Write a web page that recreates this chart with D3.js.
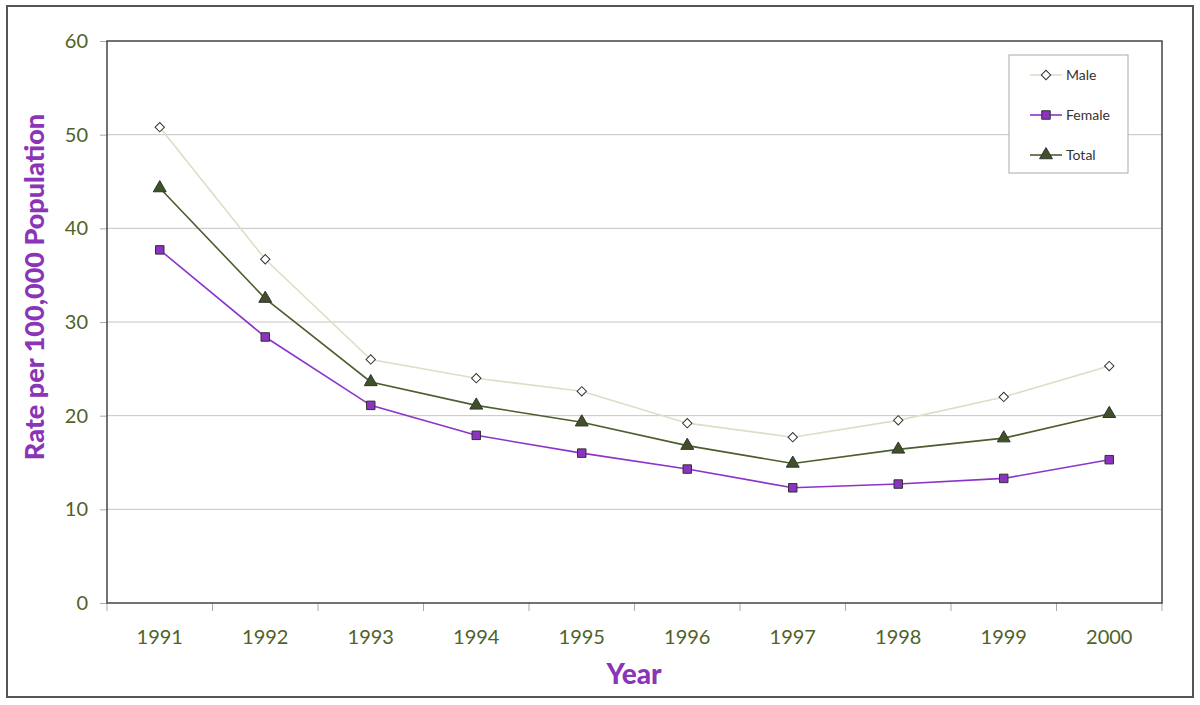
<!DOCTYPE html>
<html>
<head>
<meta charset="utf-8">
<script src="https://cdn.jsdelivr.net/npm/d3@7"></script>
<style>
  body { margin: 0; background: #fff; }
  svg { display: block; font-family: "Lato", "Liberation Sans", sans-serif; }
</style>
</head>
<body>
<div id="chart"></div>
<script>
// data
var years = ["1991", "1992", "1993", "1994", "1995", "1996", "1997", "1998", "1999", "2000"];
var male = [50.8, 36.7, 26.0, 24.0, 22.6, 19.2, 17.7, 19.5, 22.0, 25.3];
var female = [37.7, 28.4, 21.1, 17.9, 16.0, 14.3, 12.3, 12.7, 13.3, 15.3];
var total = [44.3, 32.5, 23.6, 21.1, 19.3, 16.8, 14.9, 16.4, 17.6, 20.2];
var yTicks = [0, 10, 20, 30, 40, 50, 60];

var series = [
  { name: "Male", values: male, line: "#d8e0c6", fill: "#ffffff", shape: "diamond" },
  { name: "Female", values: female, line: "#8b34c9", fill: "#8b34c0", shape: "square" },
  { name: "Total", values: total, line: "#4b5e2c", fill: "#3f5128", shape: "triangle" }
];

var w = 1200, h = 705;
var margin = { left: 107, right: 38, top: 41, bottom: 102 };

var svg = d3.select("#chart").append("svg")
  .attr("width", w)
  .attr("height", h);

// outer frame
svg.append("rect")
  .attr("x", 7).attr("y", 6)
  .attr("width", 1186).attr("height", 691)
  .attr("fill", "#fff")
  .attr("stroke", "#555")
  .attr("stroke-width", 2);

var x = d3.scaleBand()
  .domain(years)
  .range([margin.left, w - margin.right]);

var y = d3.scaleLinear()
  .domain([0, 60])
  .range([h - margin.bottom, margin.top]);

// gridlines
svg.append("g")
  .selectAll("line")
  .data(yTicks.slice(1, -1))
  .enter().append("line")
  .attr("x1", margin.left).attr("x2", w - margin.right)
  .attr("y1", d => y(d)).attr("y2", d => y(d))
  .attr("stroke", "#c4c4c4")
  .attr("stroke-width", 1);

// y axis
var yAxis = svg.append("g")
  .attr("transform", "translate(" + margin.left + ",0)")
  .call(d3.axisLeft(y).tickValues(yTicks).tickSize(7).tickPadding(12));
yAxis.select(".domain").remove();
yAxis.selectAll(".tick line").attr("stroke", "#aaa");
yAxis.selectAll(".tick text")
  .attr("fill", "#4f6228")
  .style("font-size", "20px")
  .style("font-family", "Lato, 'Liberation Sans', sans-serif");

// x axis
var xAxis = svg.append("g")
  .attr("transform", "translate(0," + y(0) + ")")
  .call(d3.axisBottom(x).tickSize(0).tickPadding(27));
xAxis.select(".domain").remove();
xAxis.selectAll(".tick text")
  .attr("fill", "#4f6228")
  .style("font-size", "20px")
  .style("font-family", "Lato, 'Liberation Sans', sans-serif");

// x ticks at the band edges
svg.append("g")
  .selectAll("line")
  .data(years.concat(["end"]))
  .enter().append("line")
  .attr("x1", (d, i) => margin.left + i * x.step())
  .attr("x2", (d, i) => margin.left + i * x.step())
  .attr("y1", y(0)).attr("y2", y(0) + 8)
  .attr("stroke", "#aaa");

// plot area border
svg.append("rect")
  .attr("x", margin.left).attr("y", margin.top)
  .attr("width", w - margin.left - margin.right)
  .attr("height", y(0) - margin.top)
  .attr("fill", "none")
  .attr("stroke", "#444")
  .attr("stroke-width", 1.5);

var line = d3.line()
  .x((d, i) => x(years[i]) + x.bandwidth() / 2)
  .y(d => y(d));

function symbolFor(shape) {
  if (shape === "diamond") return d3.symbol().type(d3.symbolSquare).size(44);
  if (shape === "square") return d3.symbol().type(d3.symbolSquare).size(72);
  return d3.symbol().type(d3.symbolTriangle).size(72);
}

series.forEach(function(s) {
  svg.append("path")
    .datum(s.values)
    .attr("fill", "none")
    .attr("stroke", s.line)
    .attr("stroke-width", 1.6)
    .attr("d", line);

  svg.append("g")
    .selectAll("path")
    .data(s.values)
    .enter().append("path")
    .attr("d", symbolFor(s.shape))
    .attr("transform", function(d, i) {
      var t = "translate(" + (x(years[i]) + x.bandwidth() / 2) + "," + y(d) + ")";
      return s.shape === "diamond" ? t + " rotate(45)" : t;
    })
    .attr("fill", s.fill)
    .attr("stroke", "#333")
    .attr("stroke-width", 1);
});

// legend
var legend = svg.append("g");
legend.append("rect")
  .attr("x", 1009).attr("y", 55)
  .attr("width", 119).attr("height", 118)
  .attr("fill", "#fff")
  .attr("stroke", "#aaa");

series.forEach(function(s, i) {
  var ly = 75 + i * 40;
  legend.append("line")
    .attr("x1", 1030).attr("x2", 1062)
    .attr("y1", ly).attr("y2", ly)
    .attr("stroke", s.line)
    .attr("stroke-width", 1.6);
  legend.append("path")
    .attr("d", symbolFor(s.shape))
    .attr("transform", "translate(1046," + ly + ")" + (s.shape === "diamond" ? " rotate(45)" : ""))
    .attr("fill", s.fill)
    .attr("stroke", "#333");
  legend.append("text")
    .attr("x", 1066).attr("y", ly)
    .attr("dy", "0.35em")
    .attr("fill", "#333")
    .style("font-size", "14px")
    .text(s.name);
});

// axis titles
svg.append("text")
  .attr("x", 634)
  .attr("y", 684)
  .attr("text-anchor", "middle")
  .attr("fill", "#8a35b8")
  .style("font-size", "28px")
  .style("font-weight", "900")
  .text("Year");

svg.append("text")
  .attr("transform", "translate(44,287) rotate(-90)")
  .attr("text-anchor", "middle")
  .attr("fill", "#8a35b8")
  .style("font-size", "27px")
  .style("font-weight", "900")
  .text("Rate per 100,000 Population");
</script>
</body>
</html>
